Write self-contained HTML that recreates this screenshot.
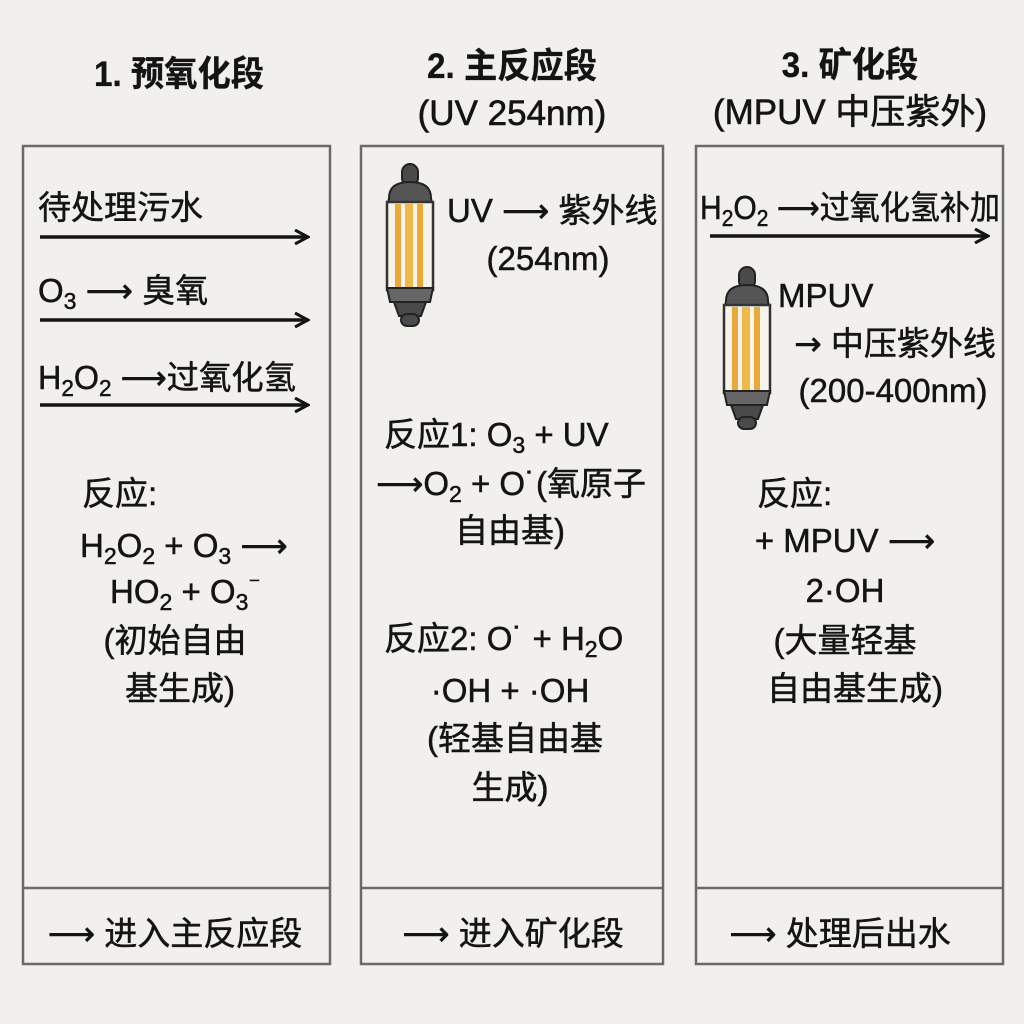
<!DOCTYPE html>
<html><head><meta charset="utf-8"><style>
html,body{margin:0;padding:0;background:#f1f0ec;}
svg{display:block}
text{font-family:"Liberation Sans","Noto Sans CJK SC",sans-serif;fill:#141414;font-size:33px;stroke:#141414;stroke-width:0.5px;}
.h{font-weight:bold;font-size:35px;stroke-width:0.3px}
.a{font-family:"DejaVu Sans",sans-serif;}
</style></head><body>
<svg width="1024" height="1024" viewBox="0 0 1024 1024" xmlns="http://www.w3.org/2000/svg">
<defs>
<marker id="ah" markerWidth="16" markerHeight="16" refX="14" refY="8" orient="auto" markerUnits="userSpaceOnUse">
<path d="M1,1 L14,8 L1,15" fill="none" stroke="#141414" stroke-width="3"/>
</marker>
<g id="lamp">
<rect x="17" y="0" width="16" height="22" rx="8" fill="#4a4a4a" stroke="#222" stroke-width="2"/>
<path d="M4,34 Q4,18 25,18 Q46,18 46,34 L47,40 L3,40 Z" fill="#555" stroke="#222" stroke-width="2"/>
<rect x="2" y="38" width="46" height="88" fill="#f6f3ea" stroke="#333" stroke-width="2.5"/>
<rect x="10" y="40" width="6" height="84" fill="#e9a93a"/>
<rect x="20" y="40" width="8" height="84" fill="#f0b848"/>
<rect x="32" y="40" width="6" height="84" fill="#e9a93a"/>
<path d="M2,124 L48,124 L45,138 L5,138 Z" fill="#666" stroke="#222" stroke-width="2"/>
<path d="M9,138 L41,138 L36,152 L14,152 Z" fill="#4a4a4a" stroke="#222" stroke-width="2"/>
<rect x="16" y="150" width="18" height="12" rx="6" fill="#4a4a4a" stroke="#222" stroke-width="2"/>
</g>
</defs>

<!-- headers -->
<text class="h" x="179" y="86" text-anchor="middle" transform="translate(179 0) scale(0.95 1) translate(-179 0)">1. 预氧化段</text>
<text class="h" x="512" y="78" text-anchor="middle" transform="translate(512 0) scale(0.95 1) translate(-512 0)">2. 主反应段</text>
<text class="h" x="512" y="125" text-anchor="middle" style="font-weight:normal;stroke-width:0.6px">(UV 254nm)</text>
<text class="h" x="850" y="77" text-anchor="middle" transform="translate(850 0) scale(0.95 1) translate(-850 0)">3. 矿化段</text>
<text class="h" x="850" y="124" text-anchor="middle" style="font-weight:normal;stroke-width:0.6px">(MPUV 中压紫外)</text>

<!-- panels -->
<g fill="none" stroke="#6a6a6a" stroke-width="2.5">
<rect x="23" y="146" width="307" height="818"/>
<line x1="23" y1="888" x2="330" y2="888"/>
<rect x="361" y="146" width="302" height="818"/>
<line x1="361" y1="888" x2="663" y2="888"/>
<rect x="696" y="146" width="307" height="818"/>
<line x1="696" y1="888" x2="1003" y2="888"/>
</g>

<!-- panel 1 -->
<text x="38" y="219">待处理污水</text>
<line x1="40" y1="237" x2="308" y2="237" stroke="#141414" stroke-width="3.5" marker-end="url(#ah)"/>
<text x="38" y="302">O<tspan font-size="23" dy="7">3</tspan><tspan dy="-7"> </tspan><tspan class="a">⟶</tspan><tspan> 臭氧</tspan></text>
<line x1="40" y1="320" x2="308" y2="320" stroke="#141414" stroke-width="3.5" marker-end="url(#ah)"/>
<text x="38" y="389" textLength="258" lengthAdjust="spacingAndGlyphs">H<tspan font-size="23" dy="7">2</tspan><tspan dy="-7">O</tspan><tspan font-size="23" dy="7">2</tspan><tspan dy="-7"> </tspan><tspan class="a">⟶</tspan><tspan>过氧化氢</tspan></text>
<line x1="40" y1="405" x2="308" y2="405" stroke="#141414" stroke-width="3.5" marker-end="url(#ah)"/>
<text x="82" y="505">反应:</text>
<text x="80" y="557">H<tspan font-size="23" dy="7">2</tspan><tspan dy="-7">O</tspan><tspan font-size="23" dy="7">2</tspan><tspan dy="-7"> + O</tspan><tspan font-size="23" dy="7">3</tspan><tspan dy="-7"> </tspan><tspan class="a">⟶</tspan></text>
<text x="110" y="603">HO<tspan font-size="23" dy="7">2</tspan><tspan dy="-7"> + O</tspan><tspan font-size="23" dy="7">3</tspan><tspan dy="-18" font-size="23">⁻</tspan></text>
<text x="175" y="652" text-anchor="middle">(初始自由</text>
<text x="180" y="700" text-anchor="middle">基生成)</text>
<text x="175" y="945" text-anchor="middle"><tspan class="a">⟶</tspan> 进入主反应段</text>

<!-- panel 2 -->
<use href="#lamp" x="385" y="164"/>
<text x="447" y="222">UV <tspan class="a">⟶</tspan> 紫外线</text>
<text x="548" y="270" text-anchor="middle">(254nm)</text>
<text x="384" y="446">反应1:  O<tspan font-size="23" dy="7">3</tspan><tspan dy="-7"> + UV</tspan></text>
<text x="376" y="495"><tspan class="a">⟶</tspan>O<tspan font-size="23" dy="7">2</tspan><tspan dy="-7"> + O˙(氧原子</tspan></text>
<text x="510" y="542" text-anchor="middle">自由基)</text>
<text x="384" y="650">反应2:  O˙ + H<tspan font-size="23" dy="7">2</tspan><tspan dy="-7">O</tspan></text>
<text x="510" y="702" text-anchor="middle">·OH + ·OH</text>
<text x="515" y="750" text-anchor="middle">(轻基自由基</text>
<text x="510" y="799" text-anchor="middle">生成)</text>
<text x="513" y="945" text-anchor="middle"><tspan class="a">⟶</tspan> 进入矿化段</text>

<!-- panel 3 -->
<text x="700" y="219" textLength="300" lengthAdjust="spacingAndGlyphs">H<tspan font-size="23" dy="7">2</tspan><tspan dy="-7">O</tspan><tspan font-size="23" dy="7">2</tspan><tspan dy="-7"> </tspan><tspan class="a">⟶</tspan><tspan>过氧化氢补加</tspan></text>
<line x1="710" y1="236" x2="988" y2="236" stroke="#141414" stroke-width="3.5" marker-end="url(#ah)"/>
<use href="#lamp" x="722" y="267"/>
<text x="778" y="307">MPUV</text>
<text x="895" y="355" text-anchor="middle"><tspan class="a">→</tspan> 中压紫外线</text>
<text x="893" y="402" text-anchor="middle">(200-400nm)</text>
<text x="757" y="505">反应:</text>
<text x="845" y="552" text-anchor="middle">+ MPUV <tspan class="a">⟶</tspan></text>
<text x="845" y="602" text-anchor="middle">2·OH</text>
<text x="845" y="652" text-anchor="middle">(大量轻基</text>
<text x="855" y="700" text-anchor="middle">自由基生成)</text>
<text x="840" y="945" text-anchor="middle"><tspan class="a">⟶</tspan> 处理后出水</text>
</svg>
</body></html>
